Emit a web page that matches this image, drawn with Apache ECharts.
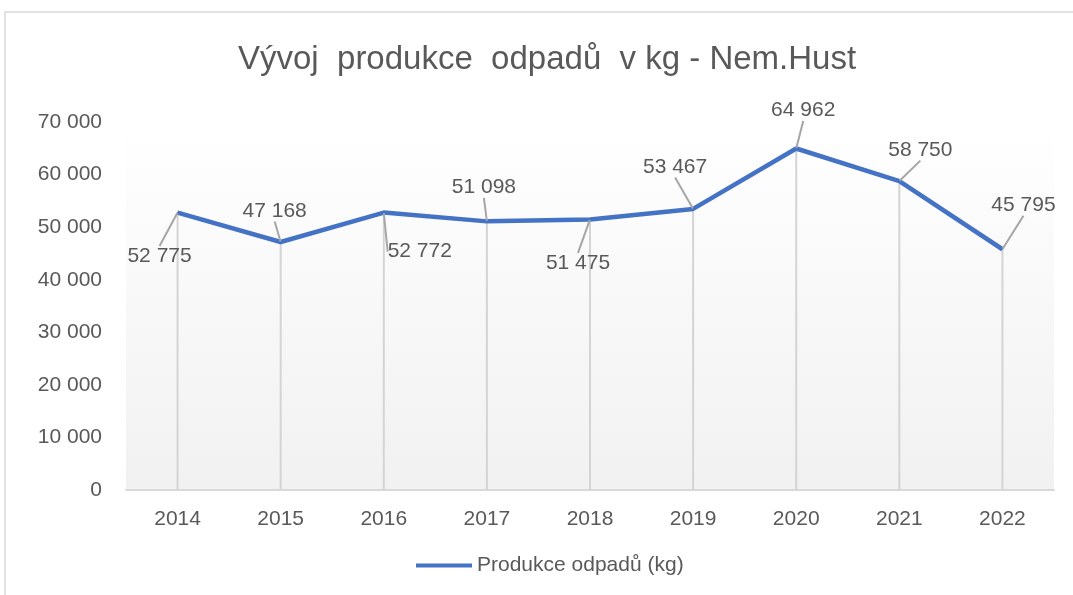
<!DOCTYPE html>
<html>
<head>
<meta charset="utf-8">
<script src="https://cdn.jsdelivr.net/npm/echarts@6/dist/echarts.min.js"></script>
<style>
    html, body { margin: 0; padding: 0; background: #fff; }
    #odpady_con1 { width: 1073px; height: 595px; }
</style>
</head>
<body>
<div id="odpady_con1"></div>
<script>
    // data
    let years = ['2014', '2015', '2016', '2017', '2018', '2019', '2020', '2021', '2022'];
    let produkce = [52775, 47168, 52772, 51098, 51475, 53467, 64962, 58750, 45795];
    let yTicks = [0, 10000, 20000, 30000, 40000, 50000, 60000, 70000];

    // label offsets from the point (px), like the Excel original
    let labelShift = [
        [-18, 44], [-6, -31], [36, 39], [-3, -34], [-12, 44],
        [-18, -42], [7, -38], [21, -31], [21, -44]
    ];

    function fmt(v) {
        return String(v).replace(/\B(?=(\d{3})+(?!\d))/g, ' ')
    }

    let grey = '#595959'
    let fontF = '"Liberation Sans", sans-serif'

    let chart = echarts.init(document.getElementById('odpady_con1'));

    const option = {
        backgroundColor: '#fff',
        animation: false,
        textStyle: { fontFamily: fontF },
        graphic: [{
            type: 'rect',
            shape: { x: 5, y: 12, width: 1200, height: 800 },
            style: { fill: 'none', stroke: '#d9d9d9', lineWidth: 1.5 },
            silent: true
        }],
        title: {
            text: 'Vývoj  produkce  odpadů  v kg - Nem.Hust',
            left: 233,
            top: 38,
            padding: 5,
            textStyle: { color: grey, fontSize: 33, fontWeight: 'normal', fontFamily: fontF }
        },
        legend: {
            data: ['Produkce odpadů (kg)'],
            bottom: 14,
            left: 411,
            itemWidth: 56,
            itemHeight: 4,
            icon: 'rect',
            itemGap: 4,
            textStyle: { color: grey, fontSize: 21 }
        },
        grid: {
            left: 126,
            right: 19,
            top: 122,
            bottom: 105,
            show: true,
            borderWidth: 0,
            backgroundColor: {
                type: 'linear', x: 0, y: 0, x2: 0, y2: 1,
                colorStops: [{ offset: 0, color: '#ffffff' }, { offset: 1, color: '#f1f1f1' }]
            }
        },
        xAxis: {
            type: 'category',
            data: years,
            axisLine: { lineStyle: { color: '#d9d9d9', width: 2 } },
            axisTick: { show: false },
            axisLabel: { color: grey, fontSize: 21, margin: 19 }
        },
        yAxis: {
            type: 'value',
            min: yTicks[0],
            max: yTicks[yTicks.length - 1],
            interval: 10000,
            splitLine: { show: false },
            axisLine: { show: false },
            axisTick: { show: false },
            axisLabel: { color: grey, fontSize: 21, margin: 24, formatter: fmt }
        },
        series: [
            {
                // drop lines
                name: 'drop',
                type: 'bar',
                data: produkce,
                barWidth: 2,
                silent: true,
                itemStyle: { color: '#d4d4d4' },
                z: 1
            },
            {
                name: 'Produkce odpadů (kg)',
                type: 'line',
                data: produkce,
                symbol: 'circle',
                symbolSize: 1,
                showSymbol: true,
                itemStyle: { color: '#4472C4' },
                lineStyle: { color: '#4472C4', width: 4.5 },
                z: 3,
                label: {
                    show: true,
                    position: 'inside',
                    color: grey,
                    fontSize: 21,
                    formatter: function (p) { return fmt(p.value) }
                },
                labelLine: {
                    show: true,
                    showAbove: false,
                    lineStyle: { color: '#a6a6a6', width: 2 }
                },
                labelLayout: function (p) {
                    let s = labelShift[p.dataIndex]
                    return { dx: s[0], dy: s[1] }
                }
            }
        ]
    };

    chart.setOption(option);

    window.addEventListener('resize', function () {
        chart.resize();
    });
</script>
</body>
</html>
